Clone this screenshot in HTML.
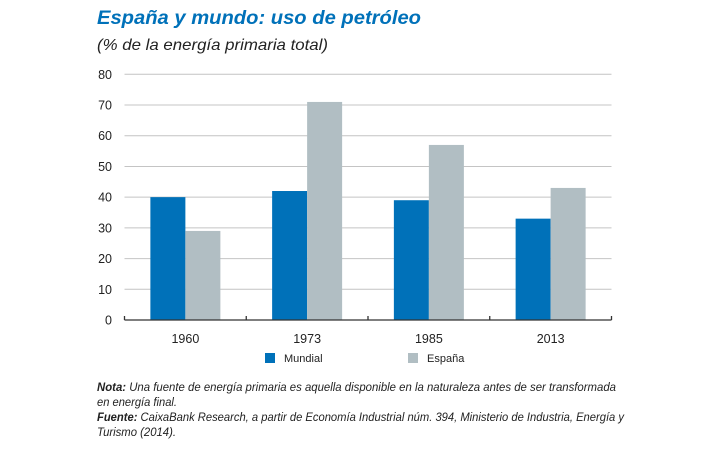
<!DOCTYPE html>
<html><head><meta charset="utf-8"><style>
body{margin:0;background:#fff;font-family:"Liberation Sans",sans-serif;}
svg text{font-family:"Liberation Sans",sans-serif;}
</style></head><body>
<svg width="720" height="449" viewBox="0 0 720 449">
<text x="97" y="24" font-size="19" font-weight="bold" font-style="italic" fill="#0071b9" textLength="324" lengthAdjust="spacingAndGlyphs">España y mundo: uso de petróleo</text>
<text x="97" y="50" font-size="16" font-style="italic" fill="#222" textLength="231" lengthAdjust="spacingAndGlyphs">(% de la energía primaria total)</text>
<g id="grid"></g><g id="bars"></g><g id="axis"></g>
<g>
<rect x="265" y="353" width="10" height="10" fill="#0071b9"/>
<text x="284" y="362" font-size="11" fill="#222">Mundial</text>
<rect x="408" y="353" width="10" height="10" fill="#b1bec3"/>
<text x="427" y="362" font-size="11" fill="#222">España</text>
</g>
<g font-size="11.5" fill="#222" font-style="italic">
<text x="97" y="391" textLength="519" lengthAdjust="spacingAndGlyphs"><tspan font-weight="bold">Nota:</tspan> Una fuente de energía primaria es aquella disponible en la naturaleza antes de ser transformada</text>
<text x="97" y="406" textLength="80" lengthAdjust="spacingAndGlyphs">en energía final.</text>
<text x="97" y="421" textLength="527" lengthAdjust="spacingAndGlyphs"><tspan font-weight="bold">Fuente:</tspan> CaixaBank Research, a partir de Economía Industrial núm. 394, Ministerio de Industria, Energía y</text>
<text x="97" y="436" textLength="79" lengthAdjust="spacingAndGlyphs">Turismo (2014).</text>
</g>
</svg>
<script>
const categories=["1960","1973","1985","2013"];
const mundial=[40,42,39,33];
const espana=[29,71,57,43];
const yTicks=[0,10,20,30,40,50,60,70,80];
const NS="http://www.w3.org/2000/svg";
const x0=124.5,x1=611.5,y0=320,y1=74.3,yMax=80;
const y=v=>y0-(y0-y1)*v/yMax;
const gw=(x1-x0)/categories.length;
const cx=i=>x0+gw*(i+0.5);
function mk(tag,attrs,parent){const e=document.createElementNS(NS,tag);for(const k in attrs)e.setAttribute(k,attrs[k]);parent.appendChild(e);return e;}
const grid=document.getElementById('grid'),bars=document.getElementById('bars'),axis=document.getElementById('axis');
yTicks.forEach(t=>{
 if(t>0){const l=mk('line',{x1:x0,x2:x1,y1:y(t),y2:y(t),stroke:'#c4c4c4','stroke-width':1},grid);
 
 }
 const tx=mk('text',{x:112,y:y(t)+4.5,'text-anchor':'end','font-size':12.5,fill:'#222'},axis);
 tx.textContent=t;
 
 
});
const bw=35;
categories.forEach((c,i)=>{
 const m=mk('rect',{x:cx(i)-bw,y:y(mundial[i]),width:bw,height:y0-y(mundial[i]),fill:'#0071b9'},bars);
 
 
 const e=mk('rect',{x:cx(i),y:y(espana[i]),width:bw,height:y0-y(espana[i]),fill:'#b1bec3'},bars);
 
 
 const t=mk('text',{x:cx(i),y:343,'text-anchor':'middle','font-size':12.5,fill:'#222'},axis);
 t.textContent=c;
 
 
});
const ax=mk('line',{x1:x0,x2:x1,y1:y0,y2:y0,stroke:'#333','stroke-width':1.3},axis);


for(let i=0;i<=categories.length;i++){
 const tk=mk('line',{x1:x0+gw*i,x2:x0+gw*i,y1:y0-4,y2:y0,stroke:'#333','stroke-width':1.3},axis);
 
 
}
</script>
</body></html>
